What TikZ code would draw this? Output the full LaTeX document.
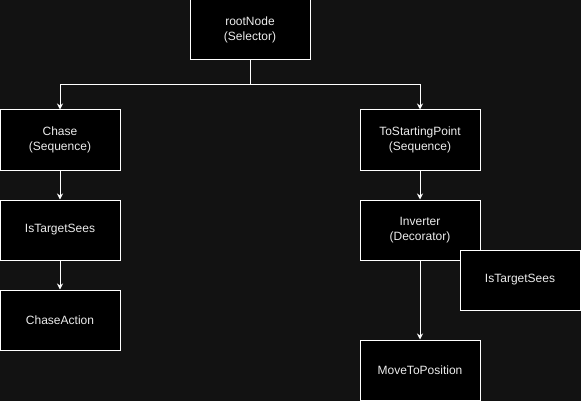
\documentclass[tikz,border=0pt]{standalone}
\usepackage{fontspec}
\setmainfont{Liberation Sans}
\usetikzlibrary{
    arrows.meta,
    positioning
}
\definecolor{bgdark}{RGB}{18,18,18}
\definecolor{labelgray}{RGB}{236,236,236}

\begin{document}
\begin{tikzpicture}[
    x=1pt,
    y=-1pt,
    every node/.style={
        font=\fontsize{12pt}{15pt}\selectfont
    },
    treebox/.style={
        draw=white,
        fill=black,
        line width=1pt,
        minimum width=120pt,
        minimum height=60pt,
        inner sep=0pt,
        align=center,
        text=labelgray
    },
    link/.style={
        draw=white,
        line width=1pt,
        -{Stealth[length=6pt,width=6pt]}
    }
]

    % -------------------------------------------------------
    % Background
    % -------------------------------------------------------
    \fill[bgdark] (0,0) rectangle (581,401);
    \useasboundingbox (0,0) rectangle (581,401);

    % -------------------------------------------------------
    % Root
    % -------------------------------------------------------
    \node[treebox] (root) at (250,30)
        {rootNode\\(Selector)};

    \coordinate (split) at (250,85);

    % -------------------------------------------------------
    % Left branch
    % -------------------------------------------------------
    \node[treebox] (chase) at (60,140)
        {Chase\\(Sequence)};

    \node[treebox] (seesleft) at (60,230)
        {IsTargetSees};

    \node[treebox] (chaseaction) at (60,320)
        {ChaseAction};

    % -------------------------------------------------------
    % Right branch
    % -------------------------------------------------------
    \node[treebox] (tostart) at (420,140)
        {ToStartingPoint\\(Sequence)};

    \node[treebox] (inverter) at (420,230)
        {Inverter\\(Decorator)};

    \node[treebox] (moveto) at (420,370)
        {MoveToPosition};

    % Condition box overlapping the decorator
    \node[treebox] (seesright) at (520,280)
        {IsTargetSees};

    % -------------------------------------------------------
    % Connectors
    % -------------------------------------------------------
    \draw[white, line width=1pt] (root.south) -- (split);
    \draw[link] (split) -| (chase.north);
    \draw[link] (split) -| (tostart.north);

    \draw[link] (chase) -- (seesleft);
    \draw[link] (seesleft) -- (chaseaction);

    \draw[link] (tostart) -- (inverter);
    \draw[link] (inverter) -- (moveto);

\end{tikzpicture}
\end{document}
